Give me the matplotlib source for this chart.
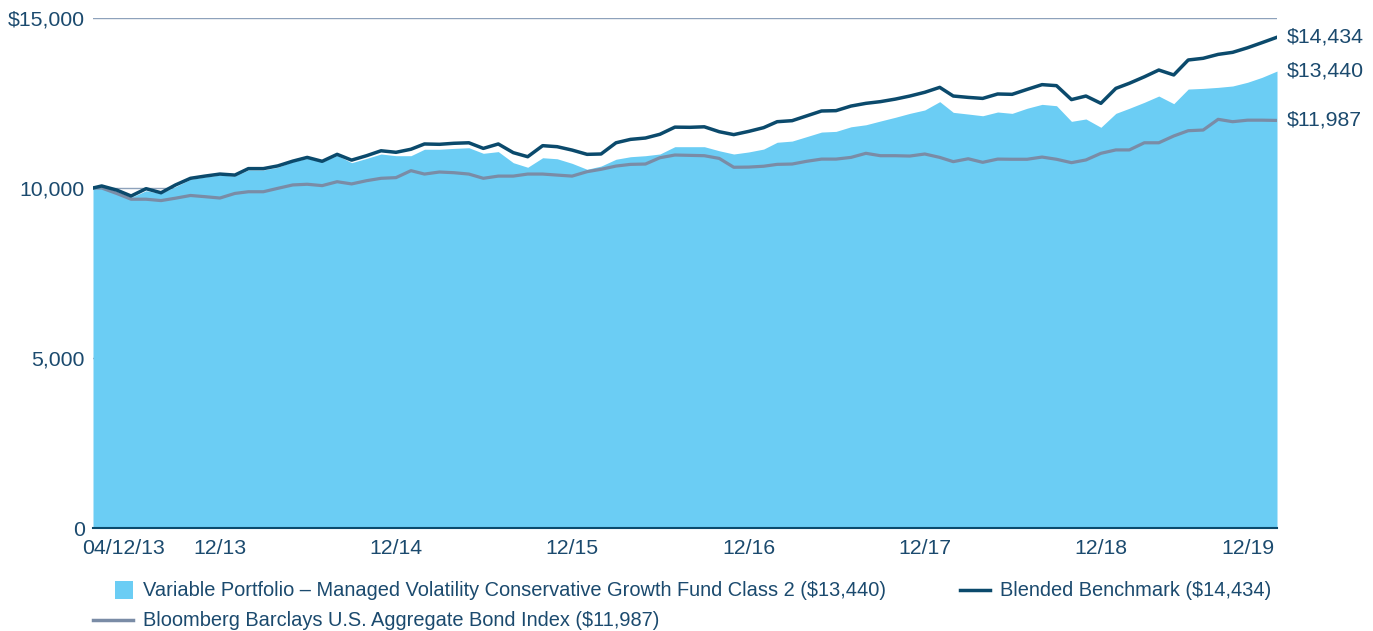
import pandas as pd
import matplotlib.pyplot as plt
import matplotlib.transforms as mtransforms
from matplotlib.patches import Rectangle
from matplotlib.lines import Line2D

plt.rcParams['font.family'] = ['Liberation Sans', 'DejaVu Sans']

# 데이터 (04/12/13 시작, 이후 월말 값)
dates = pd.to_datetime(['2013-04-12']).append(pd.date_range('2013-04-30', '2019-12-31', freq='ME'))

fund = [10000, 10030, 9900, 9725, 9920, 9840, 10040, 10255, 10325, 10380,
        10350, 10530, 10530, 10610, 10775, 10870, 10765, 10960, 10745, 10870,
        11000, 10950, 10950, 11140, 11140, 11165, 11185, 11020, 11070, 10745,
        10610, 10890, 10860, 10725, 10550, 10645, 10845, 10920, 10950, 11000,
        11215, 11215, 11215, 11095, 11000, 11060, 11145, 11345, 11380, 11510,
        11645, 11665, 11800, 11860, 11970, 12080, 12195, 12295, 12540, 12225,
        12175, 12125, 12235, 12195, 12345, 12460, 12420, 11960, 12030, 11785,
        12195, 12345, 12520, 12705, 12480, 12910, 12930, 12960, 13000, 13110,
        13255, 13440]

benchmark = [10000, 10060, 9940, 9765, 9980, 9860, 10090, 10285, 10350, 10410,
             10380, 10570, 10570, 10650, 10790, 10900, 10785, 10990, 10820, 10950,
             11095, 11050, 11140, 11295, 11285, 11315, 11330, 11165, 11295, 11040,
             10920, 11245, 11215, 11115, 10990, 11000, 11330, 11430, 11470, 11580,
             11790, 11785, 11800, 11655, 11570, 11665, 11775, 11950, 11980, 12120,
             12265, 12275, 12410, 12490, 12540, 12615, 12705, 12815, 12960, 12705,
             12665, 12635, 12765, 12755, 12900, 13040, 13010, 12600, 12705, 12490,
             12930, 13080, 13270, 13470, 13325, 13765, 13815, 13930, 13990, 14125,
             14275, 14434]

bond = [10000, 10000, 9840, 9670, 9670, 9630, 9700, 9780, 9745, 9705,
        9840, 9890, 9890, 9990, 10090, 10110, 10070, 10185, 10120, 10215,
        10285, 10305, 10510, 10410, 10470, 10450, 10410, 10285, 10350, 10350,
        10410, 10410, 10380, 10350, 10480, 10550, 10645, 10695, 10705, 10890,
        10970, 10960, 10950, 10870, 10610, 10615, 10640, 10695, 10705, 10785,
        10850, 10850, 10900, 11020, 10950, 10950, 10940, 11000, 10900, 10775,
        10860, 10755, 10850, 10845, 10845, 10910, 10845, 10745, 10825, 11020,
        11120, 11120, 11330, 11330, 11530, 11685, 11705, 12020, 11950, 11995,
        11995, 11987]

tick_dates = pd.to_datetime(['2013-04-12', '2013-12-31', '2014-12-31', '2015-12-31',
                             '2016-12-31', '2017-12-31', '2018-12-31', '2019-12-31'])
tick_labels = ['04/12/13', '12/13', '12/14', '12/15', '12/16', '12/17', '12/18', '12/19']

fund_label = 'Variable Portfolio \u2013 Managed Volatility Conservative Growth Fund Class 2 ($13,440)'
bench_label = 'Blended Benchmark ($14,434)'
bond_label = 'Bloomberg Barclays U.S. Aggregate Bond Index ($11,987)'

TEXT = '#1b4a6e'
AREA = '#6bcdf4'
NAVY = '#0b4a6c'
GREY = '#7a8ca6'
FS = 15.3
LFS = 14.4

fig = plt.figure(figsize=(13.73, 6.31), dpi=100)
ax = fig.add_axes([93 / 1373, 1 - 528 / 631, (1277 - 93) / 1373, 510 / 631])

# 눈금선
for v in [5000, 10000, 15000]:
    ax.axhline(v, color='#8ea2bb', linewidth=1.0, zorder=0)

ax.fill_between(dates, 0, fund, color=AREA, linewidth=0, zorder=1)
ax.plot(dates, bond, color=GREY, linewidth=2.3, zorder=2)
ax.plot(dates, benchmark, color=NAVY, linewidth=2.5, zorder=3)

ax.set_xlim(dates[0], dates[-1])
ax.set_ylim(0, 15000)

for s in ['top', 'right', 'left']:
    ax.spines[s].set_visible(False)
ax.spines['bottom'].set_color(NAVY)
ax.spines['bottom'].set_linewidth(1.5)

ax.set_yticks([0, 5000, 10000, 15000])
ax.set_yticklabels(['0', '5,000', '10,000', '$15,000'])
ax.set_xticks(tick_dates)
ax.set_xticklabels(tick_labels)
ax.tick_params(length=0, labelsize=FS, colors=TEXT)
ax.tick_params(axis='y', pad=6)
ax.tick_params(axis='x', pad=8)

xl = ax.get_xticklabels()
xl[0].set_transform(xl[0].get_transform() + mtransforms.ScaledTranslation(30 / 100, 0, fig.dpi_scale_trans))
xl[-1].set_transform(xl[-1].get_transform() + mtransforms.ScaledTranslation(-29 / 100, 0, fig.dpi_scale_trans))

# 오른쪽 끝 값 라벨
for vals in [benchmark, fund, bond]:
    ax.annotate('${:,}'.format(vals[-1]), xy=(dates[-1], vals[-1]), xytext=(7, 0),
                textcoords='offset points', va='center', ha='left',
                fontsize=FS, color=TEXT, annotation_clip=False)

# 범례 (수동 배치)
W, H = 1373, 631
fig.patches.append(Rectangle((115 / W, 1 - 599 / H), 18 / W, 18 / H, transform=fig.transFigure,
                             facecolor=AREA, edgecolor='none'))
fig.text(143 / W, 1 - 590 / H, fund_label, fontsize=LFS, color=TEXT, va='center')
fig.lines.append(Line2D([960 / W, 990 / W], [1 - 590 / H, 1 - 590 / H], transform=fig.transFigure,
                        color=NAVY, linewidth=2.5))
fig.text(1000 / W, 1 - 590 / H, bench_label, fontsize=LFS, color=TEXT, va='center')
fig.lines.append(Line2D([93 / W, 133 / W], [1 - 620 / H, 1 - 620 / H], transform=fig.transFigure,
                        color=GREY, linewidth=2.5))
fig.text(143 / W, 1 - 620 / H, bond_label, fontsize=LFS, color=TEXT, va='center')

fig.savefig('out.png', dpi=100)
